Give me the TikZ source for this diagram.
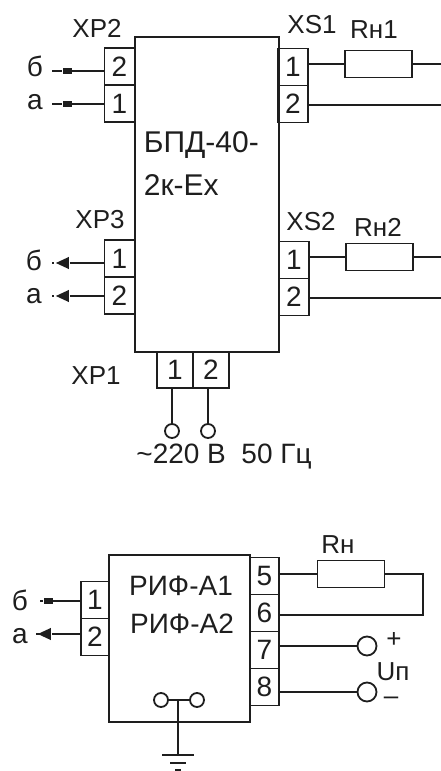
\documentclass[tikz,border=0pt]{standalone}
\usepackage{fontspec}
\setmainfont{Liberation Sans}
\usetikzlibrary{arrows,positioning,shapes.geometric}
\definecolor{inkdark}{HTML}{1E1E1E}
\begin{document}
\begin{tikzpicture}[x=1pt,y=-1pt,on grid,node distance=37pt,line width=1.8pt,color=inkdark,
	pinbox/.style={draw,rectangle,inner sep=0pt,minimum width=30pt,minimum height=37pt,font=\fontsize{28}{30}\selectfont},
	loadbox/.style={draw,rectangle,minimum width=67pt,minimum height=27pt},
	blockbox/.style={draw,rectangle,inner sep=0pt},
	lab/.style={inner sep=0pt,font=\fontsize{26}{28}\selectfont},
	biglab/.style={inner sep=0pt,font=\fontsize{30}{32}\selectfont},
	midlab/.style={inner sep=0pt,font=\fontsize{28}{30}\selectfont},
	plug/.style={fill,rectangle,inner sep=0pt,minimum width=9pt,minimum height=6pt},
	plugtip/.style={fill,isosceles triangle,isosceles triangle apex angle=50,shape border rotate=180,inner sep=0pt,minimum height=13pt,minimum width=9pt},
	term/.style={draw,circle,inner sep=0pt,minimum size=14pt}]
	\useasboundingbox (0,0) rectangle (441,771);

	\node[blockbox,minimum width=144pt,minimum height=315pt] (bpd) at (207,194.5) {};
	\node[biglab,anchor=west] (bpdname) at (143,145) {БПД-40-};
	\node[biglab,anchor=west] (bpdtype) at (143,185) {2к-Ex};

	\node[pinbox] (xp22) at (119.5,66.5) {2};
	\node[pinbox] (xp21) [below =of xp22] {1};
	\node[pinbox] (xs11) at (293,67) {1};
	\node[pinbox] (xs12) [below =of xs11] {2};
	\node[pinbox] (xp31) at (119.5,258.5) {1};
	\node[pinbox] (xp32) [below =of xp31] {2};
	\node[pinbox] (xs21) at (294,260) {1};
	\node[pinbox] (xs22) [below =of xs21] {2};
	\node[pinbox,minimum width=36pt,minimum height=36pt] (xp11) at (175,370) {1};
	\node[pinbox,minimum width=36pt,minimum height=36pt] (xp12) [right =36pt of xp11] {2};

	\node[lab] (xp2) at (97,28) {XP2};
	\node[lab] (xs1) at (312,25) {XS1};
	\node[lab] (xp3) at (100,220) {XP3};
	\node[lab] (xs2) at (311,222) {XS2};
	\node[lab] (xp1) at (96,376) {XP1};

	\node[loadbox] (rn1) at (378.5,64) {};
	\node[loadbox] (rn2) at (379.5,257) {};
	\node[lab] (rn1name) at (374,30) {Rн1};
	\node[lab] (rn2name) at (378,227) {Rн2};
	\coordinate (rn1end) at (441,64);
	\coordinate (rn2end) at (441,257);
	\coordinate (xs12end) at (441,105);
	\coordinate (xs22end) at (441,298);
	\draw (xs11.east |- rn1.west) -- (rn1.west);
	\draw (rn1.east) -- (rn1end);
	\draw (xs12.east |- xs12end) -- (xs12end);
	\draw (xs21.east |- rn2.west) -- (rn2.west);
	\draw (rn2.east) -- (rn2end);
	\draw (xs22.east |- xs22end) -- (xs22end);

	\node[midlab] (b1) at (35,66) {б};
	\node[midlab] (a1) at (35,102) {а};
	\node[midlab] (b2) at (34,260) {б};
	\node[midlab] (a2) at (34,296) {а};
	\coordinate (b1end) at (52,71);
	\coordinate (a1end) at (52,104);
	\coordinate (b2end) at (52,263);
	\coordinate (a2end) at (52,296);
	\node[plug] (plugb1) at (67,71) {};
	\node[plug] (pluga1) at (67,104) {};
	\node[plugtip] (plugb2) at (65,263) {};
	\node[plugtip] (pluga2) at (65,296) {};
	\draw (b1end) -- (plugb1) -- (plugb1 -| xp22.west);
	\draw (a1end) -- (pluga1) -- (pluga1 -| xp21.west);
	\draw (b2end) -- (plugb2) -- (plugb2 -| xp31.west);
	\draw (a2end) -- (pluga2) -- (pluga2 -| xp32.west);

	\node[term] (ac1) at (172,431) {};
	\node[term] (ac2) at (208,431) {};
	\draw (ac1.north |- xp11.south) -- (ac1.north);
	\draw (ac2.north |- xp12.south) -- (ac2.north);
	\node[midlab] (mains) at (224,457) {\textasciitilde 220 В\ \ 50 Гц};

	\node[blockbox,minimum width=141pt,minimum height=167pt] (rif) at (179.5,638.5) {};
	\node[midlab] (rifname1) at (181,586) {РИФ-А1};
	\node[midlab] (rifname2) at (182,624) {РИФ-А2};

	\node[pinbox,minimum width=28pt] (rifin1) at (95,600) {1};
	\node[pinbox,minimum width=28pt] (rifin2) [below =of rifin1] {2};
	\node[pinbox,minimum width=29pt] (rif5) at (264.5,576) {5};
	\node[pinbox,minimum width=29pt] (rif6) [below =of rif5] {6};
	\node[pinbox,minimum width=29pt] (rif7) [below =of rif6] {7};
	\node[pinbox,minimum width=29pt] (rif8) [below =of rif7] {8};

	\node[midlab] (b3) at (20,600) {б};
	\node[midlab] (a3) at (20,636) {а};
	\coordinate (b3end) at (40,601);
	\coordinate (a3end) at (40,634);
	\node[plug] (plugb3) at (48,601) {};
	\node[plugtip] (pluga3) at (47,634) {};
	\draw (b3end) -- (plugb3) -- (plugb3 -| rifin1.west);
	\draw (a3end) -- (pluga3) -- (pluga3 -| rifin2.west);

	\node[loadbox] (rn) at (351,574) {};
	\node[lab] (rnname) at (338,545) {Rн};
	\coordinate (rncorner) at (423,574);
	\coordinate (rnback) at (423,615);
	\draw (rif5.east |- rn.west) -- (rn.west);
	\draw (rn.east) -- (rncorner) -- (rnback) -- (rnback -| rif6.east);

	\node[term,minimum size=19pt] (uplus) at (367,646) {};
	\node[term,minimum size=19pt] (uminus) at (367,692) {};
	\draw (rif7.east |- uplus) -- (uplus);
	\draw (rif8.east |- uminus) -- (uminus);
	\node[lab] (plussign) at (394,640) {+};
	\node[lab] (upname) at (393,672) {Uп};
	\node[lab] (minussign) at (391,701) {–};

	\node[term] (gnd1) at (161,700) {};
	\node[term] (gnd2) at (197,700) {};
	\coordinate (gndfork) at (178,700);
	\coordinate (gndbase) at (178,755);
	\draw (gnd1) -- (gnd2);
	\draw (gndfork) -- (gndbase);
	\draw (162,755) -- (194,755);
	\draw (170,763) -- (186,763);
	\draw (175,770) -- (181,770);
\end{tikzpicture}
\end{document}
